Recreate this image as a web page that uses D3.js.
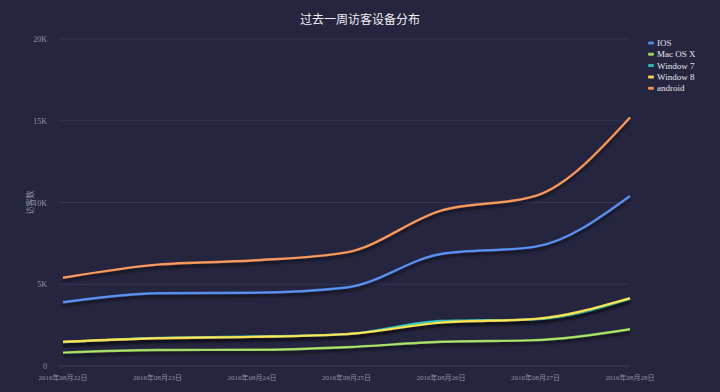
<!DOCTYPE html>
<html>
<head>
<meta charset="utf-8">
<script src="https://cdn.jsdelivr.net/npm/d3@7"></script>
<style>
  html, body { margin: 0; padding: 0; background: #252540; }
  svg { display: block; }
</style>
</head>
<body>
<svg id="chart" width="720" height="392"></svg>
<script>
// week of visits per device
const days = ['2016年08月22日', '2016年08月23日', '2016年08月24日', '2016年08月25日',
              '2016年08月26日', '2016年08月27日', '2016年08月28日'];
const seriesNames = ['IOS', 'Mac OS X', 'Window 7', 'Window 8', 'android'];
const ios     = [3900, 4450, 4480, 4800, 6850, 7300, 10400];
const macos   = [820, 980, 990, 1150, 1480, 1580, 2250];
const win7    = [1450, 1720, 1800, 1950, 2750, 2850, 4100];
const win8    = [1480, 1700, 1780, 1950, 2650, 2880, 4150];
const android = [5400, 6200, 6450, 6950, 9500, 10400, 15200];
const yTicks  = [0, 5000, 10000, 15000, 20000];

const colors = ['#5284e0', '#99cc5c', '#2cb5b0', '#f2cf4c', '#f08c52'];
const values = [ios, macos, win7, win8, android];

const svg = d3.select('#chart');
const W = 720, H = 392;
const m = { top: 39, right: 90, bottom: 26, left: 63 };

svg.append('rect').attr('width', W).attr('height', H).attr('fill', '#252540');

// drop shadow under each line (like echarts shadowOffsetY)
const defs = svg.append('defs');
const f = defs.append('filter').attr('id', 'shadow')
  .attr('x', '-5%').attr('y', '-20%').attr('width', '110%').attr('height', '160%');
f.append('feDropShadow')
  .attr('dx', 0).attr('dy', 3).attr('stdDeviation', 1.6)
  .attr('flood-color', '#000').attr('flood-opacity', 0.55);

const x = d3.scalePoint().domain(days).range([m.left, W - m.right]);
const y = d3.scaleLinear().domain([0, 20000]).range([H - m.bottom, m.top]);

// title
svg.append('text')
  .attr('x', 360).attr('y', 24)
  .attr('text-anchor', 'middle')
  .attr('fill', '#f0f0f5')
  .style('font-family', '"Noto Sans CJK SC", sans-serif')
  .style('font-size', '12px')
  .text('过去一周访客设备分布');

// grid
svg.append('g').selectAll('line')
  .data(yTicks.filter(d => d > 0))
  .join('line')
  .attr('x1', 58).attr('x2', W - m.right)
  .attr('y1', d => y(d)).attr('y2', d => y(d))
  .attr('stroke', '#33365a').attr('stroke-width', 1);

// y axis labels
svg.append('g').selectAll('text')
  .data(yTicks)
  .join('text')
  .attr('x', 47).attr('y', d => y(d) + 3)
  .attr('text-anchor', 'end')
  .attr('fill', '#8f92aa')
  .style('font-family', '"Liberation Serif", serif')
  .style('font-size', '8px')
  .text(d => d === 0 ? '0' : d3.format('d')(d / 1000) + 'K');

// x axis line
svg.append('line')
  .attr('x1', 58).attr('x2', W - m.right)
  .attr('y1', y(0)).attr('y2', y(0))
  .attr('stroke', '#3b3e62').attr('stroke-width', 1);

// x axis labels
svg.append('g').selectAll('text')
  .data(days)
  .join('text')
  .attr('x', d => x(d)).attr('y', H - 12)
  .attr('text-anchor', 'middle')
  .attr('fill', '#8f92aa')
  .style('font-family', '"Liberation Serif", "Noto Sans CJK SC", serif')
  .style('font-size', '7px')
  .text(d => d);

// y axis name
svg.append('text')
  .attr('transform', `translate(33,${y(10000)}) rotate(-90)`)
  .attr('text-anchor', 'middle')
  .attr('fill', '#8f92aa')
  .style('font-family', '"Noto Sans CJK SC", sans-serif')
  .style('font-size', '8px')
  .text('访客数');

// lines
const line = d3.line()
  .x((d, i) => x(days[i]))
  .y(d => y(d))
  .curve(d3.curveMonotoneX);

const g = svg.append('g');
values.forEach((vals, k) => {
  g.append('path')
    .datum(vals)
    .attr('d', line)
    .attr('fill', 'none')
    .attr('stroke', colors[k])
    .attr('stroke-width', 2.4)
    .attr('filter', 'url(#shadow)');
  // lighter core
  g.append('path')
    .datum(vals)
    .attr('d', line)
    .attr('fill', 'none')
    .attr('stroke', d3.color(colors[k]).brighter(0.6))
    .attr('stroke-width', 0.9)
    .attr('opacity', 0.8);
});

// legend
const leg = svg.append('g').attr('transform', 'translate(648,43)');
const items = leg.selectAll('g').data(seriesNames).join('g')
  .attr('transform', (d, i) => `translate(0,${i * 11.3})`);
items.append('rect')
  .attr('x', 0).attr('y', -1.5).attr('width', 6).attr('height', 3).attr('rx', 1)
  .attr('fill', (d, i) => colors[i]);
items.append('text')
  .attr('x', 9).attr('y', 3)
  .attr('fill', '#e6e6ee')
  .style('font-family', '"Liberation Serif", serif')
  .style('font-size', '9px')
  .text(d => d);
</script>
</body>
</html>
